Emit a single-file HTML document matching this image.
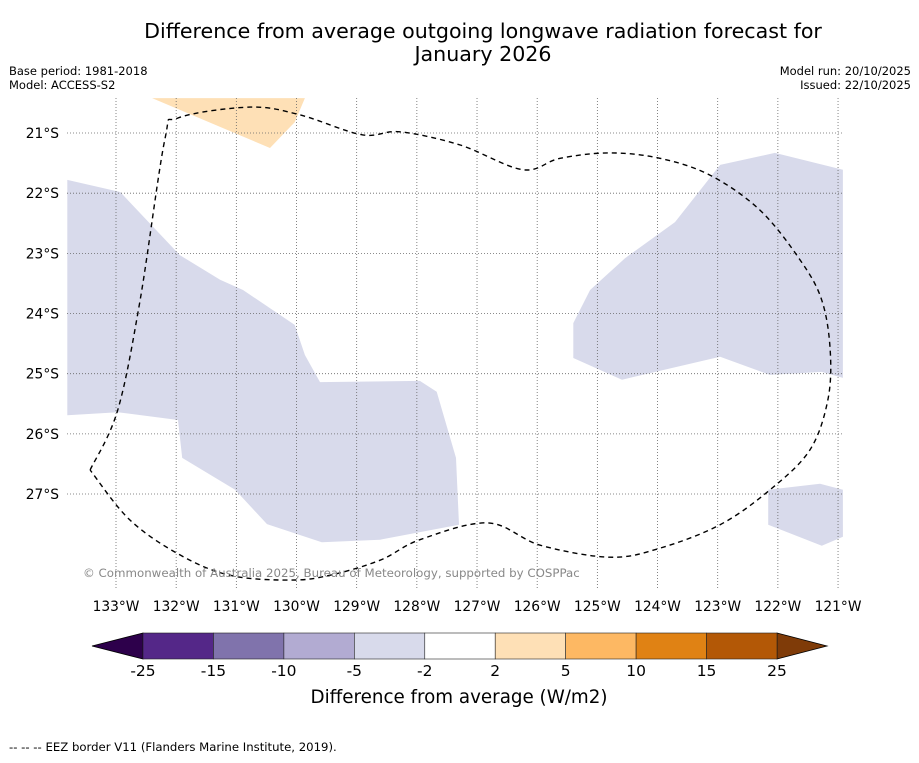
<!DOCTYPE html>
<html><head><meta charset="utf-8"><style>
body{margin:0;background:#fff;font-family:"Liberation Sans","DejaVu Sans",sans-serif;}
svg text{font-family:"DejaVu Sans","Liberation Sans",sans-serif;}
</style></head><body>
<svg id="c" width="919" height="758" xmlns="http://www.w3.org/2000/svg">
<rect width="919" height="758" fill="#fff"/>
<text x="483" y="38" font-size="20.6" text-anchor="middle">Difference from average outgoing longwave radiation forecast for</text>
<text x="483" y="61" font-size="20.6" text-anchor="middle">January 2026</text>
<text x="9" y="75" font-size="11.5">Base period: 1981-2018</text>
<text x="9" y="89" font-size="11.5">Model: ACCESS-S2</text>
<text x="911" y="75" font-size="11.5" text-anchor="end">Model run: 20/10/2025</text>
<text x="911" y="89" font-size="11.5" text-anchor="end">Issued: 22/10/2025</text>
<defs><clipPath id="mc"><rect x="67" y="98" width="776" height="492"/></clipPath></defs>
<g id="map" clip-path="url(#mc)"></g>
<g id="grid"></g>
<g id="eez" clip-path="url(#mc)"></g>
<g id="labels"></g>
<text x="83" y="577" font-size="11.8" fill="#888">© Commonwealth of Australia 2025, Bureau of Meteorology, supported by COSPPac</text>
<g id="cbar"></g>
<text x="459" y="703" font-size="18.3" text-anchor="middle">Difference from average (W/m2)</text>
<text x="9" y="751" font-size="11.7">--  --  -- EEZ border V11 (Flanders Marine Institute, 2019).</text>
</svg>
<script>
const lonTicks=[-133,-132,-131,-130,-129,-128,-127,-126,-125,-124,-123,-122,-121];
const latTicks=[21,22,23,24,25,26,27];
const levels=[-25,-15,-10,-5,-2,2,5,10,15,25];
const colors=["#2d004b","#542788","#8073ac","#b2abd2","#d8daeb","#ffffff","#fee0b6","#fdb863","#e08214","#b35806","#7f3b08"];
const polyWest=[[-133.81,21.78],[-132.93,21.98],[-131.94,23.03],[-131.27,23.44],[-130.89,23.61],[-130.03,24.19],[-129.86,24.69],[-129.61,25.14],[-127.95,25.12],[-127.67,25.30],[-127.35,26.40],[-127.30,27.51],[-128.61,27.76],[-129.58,27.80],[-130.49,27.50],[-131.02,26.93],[-131.90,26.40],[-131.97,25.77],[-132.97,25.64],[-133.81,25.69]];
const polyEast=[[-125.40,24.16],[-125.12,23.61],[-124.54,23.08],[-123.71,22.48],[-122.96,21.53],[-122.05,21.33],[-120.92,21.61],[-120.92,25.07],[-121.27,24.97],[-122.13,25.02],[-122.96,24.72],[-124.59,25.10],[-125.40,24.74]];
const polySE=[[-122.16,26.93],[-121.30,26.83],[-120.92,26.93],[-120.92,27.71],[-121.27,27.86],[-122.16,27.51]];
const polyWarm=[[-132.40,20.42],[-129.86,20.42],[-130.03,20.82],[-130.44,21.25]];
const eezLine=[[-133.43,26.60],[-132.97,25.60],[-132.60,23.78],[-132.19,21.12],[-131.97,20.75],[-130.77,20.57],[-129.94,20.70],[-128.91,21.03],[-128.28,20.98],[-127.28,21.20],[-126.24,21.61],[-125.62,21.42],[-124.79,21.33],[-123.96,21.42],[-123.13,21.70],[-122.30,22.28],[-121.63,23.11],[-121.27,23.78],[-121.13,24.61],[-121.17,25.44],[-121.47,26.27],[-122.13,26.93],[-122.96,27.51],[-123.96,27.90],[-124.79,28.05],[-125.95,27.85],[-126.82,27.48],[-127.95,27.76],[-128.61,28.10],[-129.44,28.35],[-130.11,28.43],[-131.11,28.35],[-131.94,28.01],[-132.77,27.43],[-133.43,26.60]];
const NS="http://www.w3.org/2000/svg";
const px=lon=>116+(lon+133)*60.17;
const py=s=>133+(s-21)*60.17;
function mk(t,a,p){const e=document.createElementNS(NS,t);for(const k in a)e.setAttribute(k,a[k]);p.appendChild(e);return e;}
const pts=arr=>arr.map(d=>px(d[0]).toFixed(1)+","+py(d[1]).toFixed(1)).join(" ");
function smooth(arr){
 const P=arr.map(d=>[px(d[0]),py(d[1])]);
 let s=`M${P[0][0]},${P[0][1]}`;
 for(let i=0;i<P.length-1;i++){
  const p0=P[Math.max(i-1,0)],p1=P[i],p2=P[i+1],p3=P[Math.min(i+2,P.length-1)];
  const c1=[p1[0]+(p2[0]-p0[0])/6,p1[1]+(p2[1]-p0[1])/6],c2=[p2[0]-(p3[0]-p1[0])/6,p2[1]-(p3[1]-p1[1])/6];
  s+=` C${c1[0].toFixed(1)},${c1[1].toFixed(1)} ${c2[0].toFixed(1)},${c2[1].toFixed(1)} ${p2[0].toFixed(1)},${p2[1].toFixed(1)}`;
 }
 return s;
}
const map=document.getElementById('map');
[[polyWest,'anomaly-area-west'],[polyEast,'anomaly-area-east'],[polySE,'anomaly-area-southeast']].forEach(([p,n])=>{
 const e=mk('polygon',{points:pts(p),fill:colors[4]},map);
 
 
});
const w=mk('polygon',{points:pts(polyWarm),fill:colors[6]},map);


const grid=document.getElementById('grid'),lab=document.getElementById('labels');
lonTicks.forEach(l=>{
 const g=mk('line',{x1:px(l),x2:px(l),y1:98,y2:590,stroke:'#666','stroke-width':0.8,'stroke-dasharray':'1,2'},grid);
 
 
 const t=mk('text',{x:px(l),y:611,'font-size':13.8,'text-anchor':'middle'},lab);t.textContent=Math.abs(l)+'°W';
 
 
});
latTicks.forEach(s=>{
 const g=mk('line',{x1:67,x2:843,y1:py(s),y2:py(s),stroke:'#666','stroke-width':0.8,'stroke-dasharray':'1,2'},grid);
 
 
 const t=mk('text',{x:59,y:py(s)+5,'font-size':13.8,'text-anchor':'end'},lab);t.textContent=s+'°S';
 
 
});
const eez=mk('path',{d:smooth(eezLine),fill:'none',stroke:'#000','stroke-width':1.4,'stroke-dasharray':'5,4'},document.getElementById('eez'));


const cb=document.getElementById('cbar');
const x0=143,x1=777,y0=633,y1=659,n=levels.length-1,bw=(x1-x0)/n;
const la=mk('polygon',{points:`${x0},${y0} ${x0},${y1} 92,646`,fill:colors[0],stroke:'#000','stroke-width':0.8},cb);


const ra=mk('polygon',{points:`${x1},${y0} ${x1},${y1} 827,646`,fill:colors[10],stroke:'#000','stroke-width':0.8},cb);


for(let i=0;i<n;i++){
 const r=mk('rect',{x:x0+i*bw,y:y0,width:bw,height:y1-y0,fill:colors[i+1],stroke:'#222','stroke-width':0.6},cb);
 
 
}
levels.forEach((v,i)=>{
 const t=mk('text',{x:x0+i*bw,y:676,'font-size':15.5,'text-anchor':'middle'},cb);t.textContent=v;
 
 
});
</script>
</body></html>
